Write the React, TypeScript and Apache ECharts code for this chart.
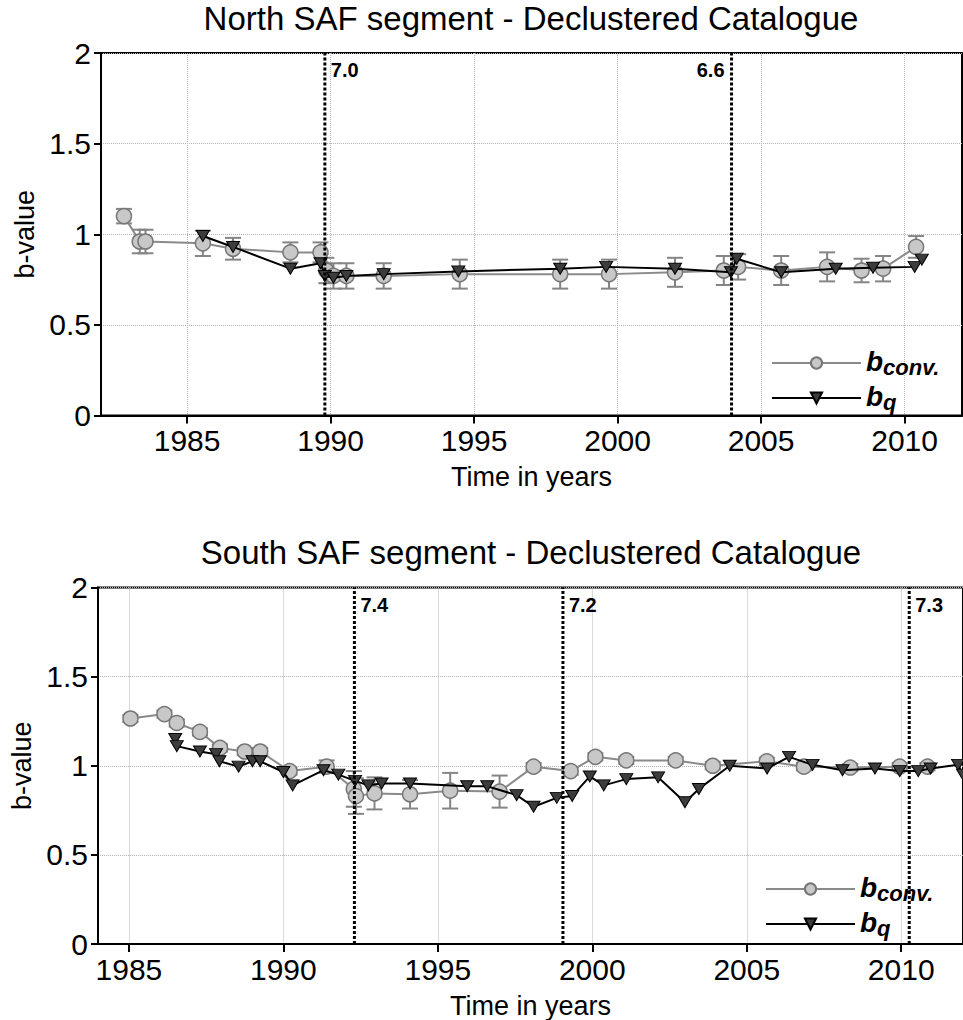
import React, { useEffect, useRef } from 'react';
import * as echarts from 'echarts';

const FONT = "'Liberation Sans', Arial, Helvetica, sans-serif";

// tick labels
const xTickYears = [1985, 1990, 1995, 2000, 2005, 2010];
const yTickValues = [0, 0.5, 1, 1.5, 2];

// ---------------- North SAF ----------------
const northConvYears = [1982.8, 1983.35, 1983.55, 1985.55, 1986.6, 1988.6, 1989.65, 1989.85, 1990.1, 1990.55, 1991.85, 1994.5, 1998.0, 1999.7, 2002.0, 2003.7, 2004.2, 2005.7, 2007.3, 2008.5, 2009.25, 2010.4];
const northConvValues = [1.10, 0.96, 0.96, 0.95, 0.92, 0.90, 0.90, 0.80, 0.77, 0.77, 0.77, 0.78, 0.78, 0.78, 0.79, 0.80, 0.82, 0.80, 0.82, 0.80, 0.81, 0.93];
const northConvErrors = [0.04, 0.065, 0.065, 0.07, 0.06, 0.055, 0.055, 0.07, 0.07, 0.07, 0.07, 0.08, 0.08, 0.08, 0.08, 0.08, 0.07, 0.08, 0.08, 0.065, 0.07, 0.06];
const northQYears = [1985.55, 1986.6, 1988.6, 1989.65, 1989.8, 1990.1, 1990.55, 1991.85, 1994.45, 1998.0, 1999.6, 2002.0, 2003.95, 2004.15, 2005.7, 2007.6, 2008.9, 2010.35, 2010.6];
const northQValues = [0.99, 0.93, 0.81, 0.84, 0.77, 0.76, 0.77, 0.78, 0.795, 0.81, 0.82, 0.81, 0.79, 0.865, 0.79, 0.81, 0.815, 0.82, 0.86];
const northQuakeYears = [1989.8, 2003.97];
const northQuakeMags = ['7.0', '6.6'];
const northQuakeLabelSides = ['right', 'left'];

// ---------------- South SAF ----------------
const southConvYears = [1985.05, 1986.15, 1986.55, 1987.3, 1987.95, 1988.75, 1989.25, 1990.2, 1991.4, 1992.28, 1992.35, 1992.95, 1994.1, 1995.4, 1997.0, 1998.1, 1999.3, 2000.1, 2001.1, 2002.7, 2003.9, 2005.65, 2006.85, 2008.35, 2009.95, 2010.85];
const southConvValues = [1.265, 1.29, 1.24, 1.19, 1.10, 1.08, 1.08, 0.97, 0.995, 0.87, 0.83, 0.845, 0.84, 0.86, 0.855, 0.995, 0.97, 1.05, 1.03, 1.03, 1.0, 1.025, 0.995, 0.99, 0.995, 0.995];
const southConvErrors = [0.02, 0.02, 0.02, 0.02, 0.02, 0.02, 0.02, 0.02, 0.035, 0.1, 0.1, 0.09, 0.08, 0.1, 0.09, 0.02, 0.02, 0.02, 0.02, 0.02, 0.02, 0.02, 0.02, 0.02, 0.02, 0.02];
const southQYears = [1986.5, 1986.55, 1987.3, 1987.82, 1987.93, 1988.55, 1989.0, 1989.25, 1990.0, 1990.3, 1991.3, 1991.78, 1992.32, 1992.75, 1993.18, 1994.1, 1995.95, 1996.6, 1997.55, 1998.1, 1998.85, 1999.35, 1999.92, 2000.37, 2001.1, 2002.13, 2003.0, 2003.45, 2004.45, 2005.66, 2006.37, 2007.13, 2008.1, 2009.15, 2009.95, 2010.55, 2010.95, 2011.84, 2012.0];
const southQValues = [1.15, 1.11, 1.08, 1.065, 1.025, 0.995, 1.025, 1.025, 0.965, 0.89, 0.975, 0.95, 0.915, 0.89, 0.90, 0.90, 0.885, 0.885, 0.835, 0.77, 0.82, 0.83, 0.94, 0.89, 0.925, 0.935, 0.795, 0.87, 1.0, 0.985, 1.05, 1.005, 0.975, 0.985, 0.97, 0.97, 0.985, 1.005, 0.95];
const southQuakeYears = [1992.3, 1999.05, 2010.26];
const southQuakeMags = ['7.4', '7.2', '7.3'];
const southQuakeLabelSides = ['right', 'right', 'right'];

const zip = (xs: number[], ys: number[]) => xs.map((x, i) => [x, ys[i]]);

function errorSeries(grid: number, years: number[], vals: number[], errs: number[]) {
  return {
    type: 'custom',
    xAxisIndex: grid,
    yAxisIndex: grid,
    z: 2,
    silent: true,
    encode: { x: 0, y: [1, 2] },
    data: years.map((x, i) => [x, vals[i] - errs[i], vals[i] + errs[i]]),
    renderItem: (params: any, api: any) => {
      const x = api.value(0);
      const lo = api.coord([x, api.value(1)]);
      const hi = api.coord([x, api.value(2)]);
      const w = 8;
      const st = { stroke: '#858585', lineWidth: 2 };
      return {
        type: 'group',
        children: [
          { type: 'line', shape: { x1: lo[0], y1: lo[1], x2: hi[0], y2: hi[1] }, style: st },
          { type: 'line', shape: { x1: lo[0] - w, y1: lo[1], x2: lo[0] + w, y2: lo[1] }, style: st },
          { type: 'line', shape: { x1: hi[0] - w, y1: hi[1], x2: hi[0] + w, y2: hi[1] }, style: st },
        ],
      };
    },
  };
}

function quakeSeries(grid: number, years: number[], mags: string[], sides: string[]) {
  return {
    type: 'custom',
    xAxisIndex: grid,
    yAxisIndex: grid,
    z: 10,
    silent: true,
    encode: { x: 0 },
    data: years.map((y, i) => [y, i]),
    renderItem: (params: any, api: any) => {
      const x = api.value(0);
      const idx = api.value(1);
      const bottom = api.coord([x, 0]);
      const top = api.coord([x, 2]);
      const side = sides[idx];
      return {
        type: 'group',
        children: [
          {
            type: 'line',
            shape: { x1: bottom[0], y1: bottom[1], x2: top[0], y2: top[1] },
            style: { stroke: '#000', lineWidth: 3, lineDash: [3, 2] },
          },
          {
            type: 'text',
            x: side === 'right' ? top[0] + 6 : top[0] - 7,
            y: top[1] + 17,
            style: {
              text: mags[idx],
              fill: '#000',
              font: `bold 20px ${FONT}`,
              align: side === 'right' ? 'left' : 'right',
              verticalAlign: 'middle',
            },
          },
        ],
      };
    },
  };
}

function convSeries(name: string, grid: number, years: number[], vals: number[]) {
  return {
    name,
    type: 'line',
    xAxisIndex: grid,
    yAxisIndex: grid,
    z: 3,
    data: zip(years, vals),
    symbol: 'circle',
    symbolSize: 15,
    showAllSymbol: true,
    lineStyle: { color: '#8a8a8a', width: 2 },
    itemStyle: { color: '#c8c8c8', borderColor: '#767676', borderWidth: 1.5 },
  };
}

function qSeries(name: string, grid: number, years: number[], vals: number[]) {
  return {
    name,
    type: 'line',
    xAxisIndex: grid,
    yAxisIndex: grid,
    z: 4,
    data: zip(years, vals),
    symbol: 'triangle',
    symbolRotate: 180,
    symbolSize: [13, 11],
    showAllSymbol: true,
    lineStyle: { color: '#000', width: 2 },
    itemStyle: { color: '#3c3c3c', borderColor: '#000', borderWidth: 1 },
  };
}

function xAxis(grid: number, min: number, max: number) {
  return {
    type: 'value',
    gridIndex: grid,
    min,
    max,
    name: 'Time in years',
    nameLocation: 'middle',
    nameGap: 48,
    nameTextStyle: { fontSize: 27, color: '#000', fontFamily: FONT },
    axisLine: { show: true, onZero: false, lineStyle: { color: '#000', width: 2 } },
    axisTick: { show: true, length: 8, customValues: xTickYears, lineStyle: { color: '#000', width: 2 } },
    axisLabel: { customValues: xTickYears, fontSize: 30, color: '#000', fontFamily: FONT, margin: 10, formatter: (v: number) => String(v) },
    splitLine: { show: true, lineStyle: { color: '#b4b4b4', type: 'dotted', width: 1 } },
  };
}

function yAxis(grid: number) {
  return {
    type: 'value',
    gridIndex: grid,
    min: yTickValues[0],
    max: yTickValues[yTickValues.length - 1],
    interval: 0.5,
    name: 'b-value',
    nameLocation: 'middle',
    nameGap: 62,
    nameTextStyle: { fontSize: 27, color: '#000', fontFamily: FONT },
    axisLine: { show: true, lineStyle: { color: '#000', width: 2 } },
    axisTick: { show: true, length: 7, lineStyle: { color: '#000', width: 2 } },
    axisLabel: { fontSize: 30, color: '#000', fontFamily: FONT, margin: 10, formatter: (v: number) => String(v) },
    splitLine: { show: true, lineStyle: { color: '#b4b4b4', type: 'dotted', width: 1 } },
  };
}

const richText = {
  b: { fontSize: 28, fontWeight: 'bold', fontStyle: 'italic', color: '#000', fontFamily: FONT, verticalAlign: 'bottom', lineHeight: 30, padding: [0, 0, 3, 0] },
  s: { fontSize: 22, fontWeight: 'bold', fontStyle: 'italic', color: '#000', fontFamily: FONT, verticalAlign: 'bottom', lineHeight: 24 },
};

function legendFor(names: string[], left: number, top: number) {
  return {
    data: names,
    left,
    top,
    orient: 'vertical',
    itemWidth: 89,
    itemHeight: 14,
    itemGap: 4,
    selectedMode: false,
    formatter: (n: string) => (n.startsWith('bconv') ? '{b|b}{s|conv.}' : '{b|b}{s|q}'),
    textStyle: { rich: richText },
  };
}

export default function App() {
  const ref = useRef<HTMLDivElement>(null);
  useEffect(() => {
    if (!ref.current) return;
    const chart = echarts.init(ref.current, undefined, { renderer: 'svg' });
    chart.setOption({
      animation: false,
      backgroundColor: '#fff',
      textStyle: { fontFamily: FONT },
      title: [
        { text: 'North SAF segment - Declustered Catalogue', left: 531, top: 2, textAlign: 'center', padding: 0, textStyle: { fontSize: 33, fontWeight: 'normal', color: '#000', fontFamily: FONT } },
        { text: 'South SAF segment - Declustered Catalogue', left: 531, top: 536, textAlign: 'center', padding: 0, textStyle: { fontSize: 33, fontWeight: 'normal', color: '#000', fontFamily: FONT } },
      ],
      grid: [
        { left: 101, top: 53, width: 861, height: 362.5, show: true, borderColor: '#000', borderWidth: 2, backgroundColor: 'transparent' },
        { left: 98, top: 587.5, width: 867, height: 360, show: true, borderColor: '#000', borderWidth: 2, backgroundColor: 'transparent' },
      ],
      xAxis: [xAxis(0, 1982, 2012), xAxis(1, 1984, 2012)],
      yAxis: [yAxis(0), yAxis(1)],
      legend: [
        legendFor(['bconvN', 'bqN'], 766, 342),
        legendFor(['bconvS', 'bqS'], 760, 868),
      ],
      series: [
        errorSeries(0, northConvYears, northConvValues, northConvErrors),
        convSeries('bconvN', 0, northConvYears, northConvValues),
        qSeries('bqN', 0, northQYears, northQValues),
        quakeSeries(0, northQuakeYears, northQuakeMags, northQuakeLabelSides),
        errorSeries(1, southConvYears, southConvValues, southConvErrors),
        convSeries('bconvS', 1, southConvYears, southConvValues),
        qSeries('bqS', 1, southQYears, southQValues),
        quakeSeries(1, southQuakeYears, southQuakeMags, southQuakeLabelSides),
      ],
    });
    return () => chart.dispose();
  }, []);
  return <div ref={ref} style={{ position: 'fixed', left: 0, top: 0, width: 963, height: 1020 }} />;
}
